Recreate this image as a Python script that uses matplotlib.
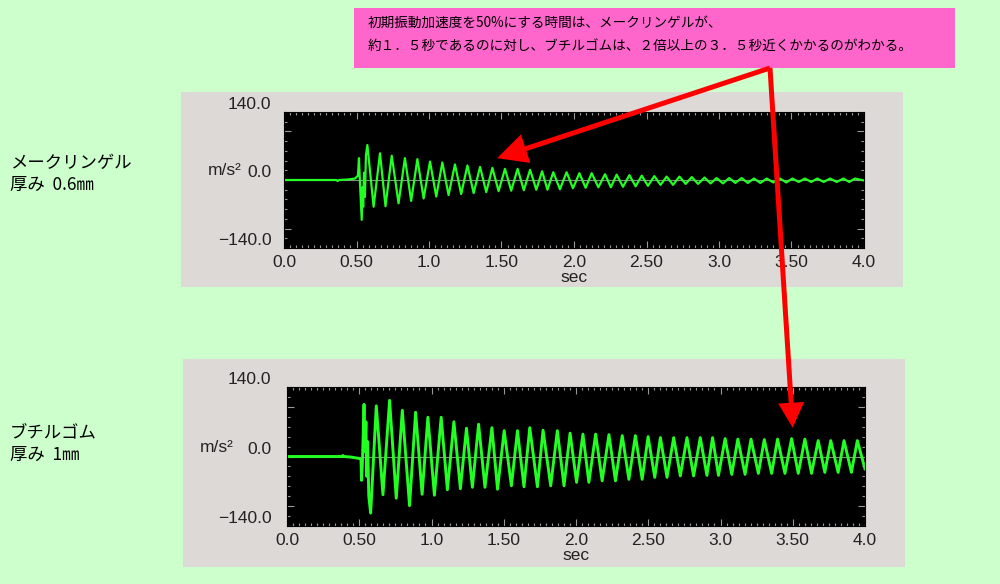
import matplotlib
matplotlib.use('Agg')
import matplotlib.pyplot as plt
from matplotlib.patches import FancyArrow, Rectangle
from matplotlib.ticker import MultipleLocator
from matplotlib import transforms

# --- データ ---
x_ticks = [0.0, 0.5, 1.0, 1.5, 2.0, 2.5, 3.0, 3.5, 4.0]
x_labels = ['0.0', '0.50', '1.0', '1.50', '2.0', '2.50', '3.0', '3.50', '4.0']
y_ticks = [-140, -100, 0, 100, 140]
y_labels = ['\u2212140.0', '', '0.0', '', '140.0']

# メークリンゲル 厚み0.6mm
mk_onset_t = [0.0, 0.36, 0.37, 0.38, 0.44, 0.49, 0.51, 0.517, 0.523, 0.536, 0.541, 0.546, 0.552, 0.558, 0.565]
mk_onset_v = [0, 0, -2, 0, 1, 3, 9, 45, 0, -82, -15, -55, 15, -35, 50]
mk_peak_t = [0.575, 0.662, 0.743, 0.834, 0.92, 1.007, 1.092, 1.179, 1.265, 1.352, 1.437, 1.524, 1.611, 1.697,
             1.78, 1.857, 1.949, 2.037, 2.122, 2.214, 2.294, 2.382, 2.467, 2.554, 2.639, 2.727, 2.812, 2.9,
             2.984, 3.07, 3.156, 3.241, 3.329, 3.421, 3.506, 3.593, 3.678, 3.766, 3.858, 3.938]
mk_peak_v = [72, 55, 50, 45, 43, 38, 36, 32, 30, 27, 25, 23, 23, 21, 18, 16, 16, 14, 14, 12, 11, 10, 9, 8,
             7, 7, 6, 5, 4, 4, 4, 3, 3, 3, 3, 3, 3, 3, 3, 3]
mk_trough_t = [0.618, 0.70, 0.79, 0.877, 0.963, 1.05, 1.135, 1.222, 1.308, 1.395, 1.48, 1.567, 1.654, 1.74,
               1.817, 1.903, 1.993, 2.08, 2.168, 2.254, 2.338, 2.425, 2.51, 2.597, 2.683, 2.77, 2.856, 2.942,
               3.027, 3.113, 3.198, 3.285, 3.375, 3.464, 3.55, 3.636, 3.722, 3.812, 3.898, 4.0]
mk_trough_v = [-55, -54, -48, -43, -38, -34, -31, -29, -27, -25, -23, -22, -21, -20, -20, -19, -17, -16, -15,
               -15, -14, -13, -12, -10, -10, -8, -8, -7, -7, -6, -6, -6, -5, -5, -4, -4, -4, -4, -4, -1]

# ブチルゴム 厚み1mm
bt_onset_t = [0.0, 0.38, 0.386, 0.392, 0.44, 0.50, 0.512, 0.516, 0.522, 0.527, 0.533, 0.540, 0.546, 0.552,
              0.558, 0.566]
bt_onset_v = [0, 0, 2, 0, -1, -4, -6, -48, -10, 40, 105, 10, 70, -40, 30, -80]
bt_peak_t = [0.618, 0.71, 0.798, 0.89, 0.975, 1.067, 1.155, 1.242, 1.326, 1.418, 1.503, 1.595, 1.68,
             1.772, 1.871, 1.959, 2.048, 2.136, 2.228, 2.32, 2.411, 2.499, 2.584, 2.676, 2.768, 2.86, 2.945,
             3.032, 3.12, 3.211, 3.303, 3.395, 3.492, 3.584, 3.676, 3.763, 3.855, 3.947]
bt_peak_v = [102, 113, 93, 89, 79, 79, 70, 57, 65, 58, 52, 52, 58, 53, 52, 47, 45, 45, 44, 42, 42, 40, 38,
             38, 38, 38, 38, 36, 35, 35, 34, 35, 36, 35, 32, 32, 32, 32]
bt_trough_t = [0.579, 0.664, 0.756, 0.848, 0.935, 1.02, 1.11, 1.2, 1.283, 1.37, 1.457, 1.553, 1.64, 1.733,
               1.825, 1.917, 2.004, 2.089, 2.181, 2.273, 2.366, 2.458, 2.545, 2.63, 2.722, 2.814, 2.906,
               2.986, 3.078, 3.17, 3.262, 3.354, 3.446, 3.538, 3.63, 3.722, 3.814, 3.906, 4.0]
bt_trough_v = [-114, -77, -84, -99, -76, -78, -67, -65, -62, -62, -66, -59, -61, -61, -59, -59, -52, -52,
               -49, -49, -46, -46, -42, -42, -39, -39, -38, -38, -36, -36, -34, -34, -34, -34, -34, -32,
               -32, -32, -25]

BG = '#CCFFCC'
FRAME = '#DDD9D6'
GREEN = '#22FF22'
W, H = 1000, 584


def px_rect(x0, y0, x1, y1):
    return [x0 / W, 1 - y1 / H, (x1 - x0) / W, (y1 - y0) / H]


def merge(*pairs):
    pts = []
    for ts, vs in pairs:
        pts += list(zip(ts, vs))
    pts.sort()
    return [p[0] for p in pts], [p[1] for p in pts]


fig = plt.figure(figsize=(10, 5.84), dpi=100)
fig.patch.set_facecolor(BG)

# 灰色の枠
for r in [(181, 92, 903, 287), (183, 359, 905, 567)]:
    x0, y0, x1, y1 = r
    fig.add_artist(Rectangle((x0 / W, 1 - y1 / H), (x1 - x0) / W, (y1 - y0) / H,
                             transform=fig.transFigure, facecolor=FRAME, edgecolor='none', zorder=-1))

ax1 = fig.add_axes(px_rect(284, 112, 864, 248))
ax2 = fig.add_axes(px_rect(287, 387, 865, 526))


def setup(ax, t, v, lw, ypad, unit_x):
    ax.set_facecolor('black')
    ax.axhline(0, color='#8a8a8a', lw=0.8, zorder=1)
    ax.plot(t, v, color=GREEN, lw=lw, zorder=2)
    ax.set_xlim(0, 4)
    ax.set_ylim(-140, 140)
    ax.set_xticks(x_ticks, labels=x_labels)
    ax.set_yticks(y_ticks, labels=y_labels)
    ax.xaxis.set_minor_locator(MultipleLocator(0.5 / 12))
    ax.yaxis.set_minor_locator(MultipleLocator(20))
    ax.tick_params(which='both', direction='in', color='#9a9a9a', width=0.8,
                   top=True, right=True)
    ax.tick_params(which='major', length=5)
    ax.tick_params(which='minor', length=2.5)
    ax.tick_params(axis='x', pad=5)
    ax.tick_params(axis='y', pad=ypad)
    for s in ax.spines.values():
        s.set_color('black')
    up = transforms.ScaledTranslation(0, 9 / 100, fig.dpi_scale_trans)
    for lab in ax.get_xticklabels() + ax.get_yticklabels():
        lab.set_fontfamily('Liberation Sans')
        lab.set_fontsize(12.5)
        lab.set_color('#222222')
    for lab in ax.get_yticklabels():
        lab.set_transform(lab.get_transform() + up)
    ax.text(unit_x, 0, 'm/s\u00b2', transform=ax.get_yaxis_transform() + up,
            ha='right', va='center', fontsize=12.5, family='Liberation Sans', color='#222222')
    down = transforms.ScaledTranslation(0, -30 / 100, fig.dpi_scale_trans)
    ax.text(2.0, 0, 'sec', transform=ax.get_xaxis_transform() + down,
            ha='center', va='center', fontsize=12.5, family='Liberation Sans', color='#222222')


t1, v1 = merge((mk_onset_t, mk_onset_v), (mk_peak_t, mk_peak_v), (mk_trough_t, mk_trough_v))
t2, v2 = merge((bt_onset_t, bt_onset_v), (bt_peak_t, bt_peak_v), (bt_trough_t, bt_trough_v))
setup(ax1, t1, v1, 1.6, 9.1, (242 - 284) / 580)
setup(ax2, t2, v2, 2.1, 11.2, (234 - 287) / 578)

# 左側のラベル
jp = ['Noto Sans CJK JP', 'DejaVu Sans']
fig.text(10 / W, 1 - 163 / H, 'メークリンゲル', va='center', fontsize=12.5, family=jp)
fig.text(10 / W, 1 - 185 / H, '厚み  0.6㎜', va='center', fontsize=12.5, family=jp)
fig.text(10 / W, 1 - 433 / H, 'ブチルゴム', va='center', fontsize=12.5, family=jp)
fig.text(10 / W, 1 - 455 / H, '厚み  1㎜', va='center', fontsize=12.5, family=jp)

# 注記と矢印
ov = fig.add_axes([0, 0, 1, 1])
ov.set_xlim(0, W)
ov.set_ylim(H, 0)
ov.axis('off')
ov.set_zorder(5)
ov.add_patch(Rectangle((354, 8), 601, 60, facecolor='#FF66CC', edgecolor='none'))
ov.text(368, 23, '初期振動加速度を50%にする時間は、メークリンゲルが、', va='center',
        fontsize=9.8, family=jp)
ov.text(368, 46, '約１．５秒であるのに対し、ブチルゴムは、２倍以上の３．５秒近くかかるのがわかる。',
        va='center', fontsize=9.8, family=jp)


def to_px(ax, x, y):
    return ov.transData.inverted().transform(ax.transData.transform((x, y)))


tail = (770, 68)
for ax, tx, ty, hw, hl in [(ax1, 1.47, 45, 30, 30), (ax2, 3.50, 58, 26, 25)]:
    px, py = to_px(ax, tx, ty)
    ov.add_patch(FancyArrow(tail[0], tail[1], px - tail[0], py - tail[1], width=5,
                            head_width=hw, head_length=hl, length_includes_head=True,
                            color='#FF0000', lw=0))

plt.savefig('out.png', dpi=100, facecolor=BG)
